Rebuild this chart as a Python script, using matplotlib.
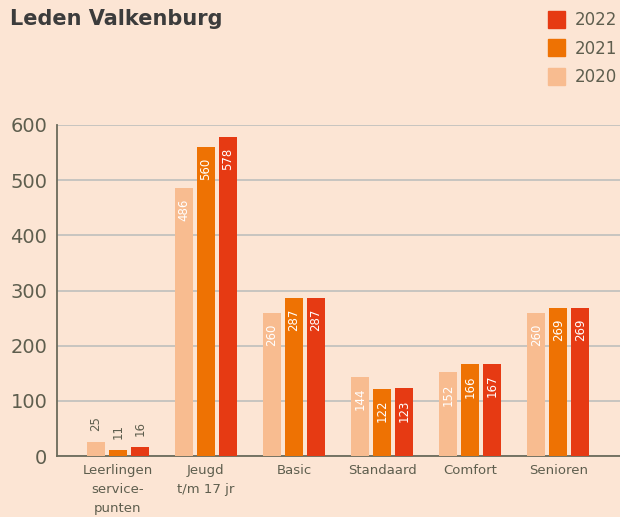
import numpy as np
import matplotlib.pyplot as plt
from matplotlib.patches import Rectangle

categories = ['Leerlingen\nservice-\npunten', 'Jeugd\nt/m 17 jr', 'Basic', 'Standaard', 'Comfort', 'Senioren']
years = ['2020', '2021', '2022']
leden_2020 = [25, 486, 260, 144, 152, 260]
leden_2021 = [11, 560, 287, 122, 166, 269]
leden_2022 = [16, 578, 287, 123, 167, 269]

bg = '#fce5d4'
colors = ['#f8bc90', '#ee7203', '#e63a13']
txt = '#5e5e4e'

fig = plt.figure(figsize=(6.2, 5.17), dpi=100, facecolor=bg)
ax = fig.add_axes([57/620, 1-456/517, 563/620, 331/517])
ax.set_facecolor(bg)

x = np.arange(len(categories))
w = 0.205
series = [leden_2020, leden_2021, leden_2022]
for i, vals in enumerate(series):
    xs = x + (i - 1) * 0.25
    ax.bar(xs, vals, width=w, color=colors[i], zorder=3)
    for xi, v in zip(xs, vals):
        if v > 60:
            ax.text(xi, v - 20, str(v), rotation=90, ha='center', va='top',
                    color='white', fontsize=8.5, zorder=4)
        else:
            ax.text(xi, v + 20, str(v), rotation=90, ha='center', va='bottom',
                    color=txt, fontsize=8.5, zorder=4)

ax.set_xlim(-0.69, 5.70)
ax.set_ylim(0, 600)
ax.set_yticks(range(0, 601, 100))
ax.yaxis.grid(True, color='#b9bcbb', linewidth=1.1, zorder=0)
ax.set_axisbelow(True)
ax.tick_params(axis='y', length=0, pad=7, labelsize=14, labelcolor=txt)
ax.tick_params(axis='x', length=0, pad=6, labelsize=9.5, labelcolor=txt)
ax.set_xticks(x)
ax.set_xticklabels(categories, linespacing=1.6)
for s in ['top', 'right']:
    ax.spines[s].set_visible(False)
for s in ['left', 'bottom']:
    ax.spines[s].set_color('#6b6b5b')
    ax.spines[s].set_linewidth(1.3)

fig.text(10/620, 1-19/517, 'Leden Valkenburg', fontsize=15, fontweight='bold',
         color='#3c3c3c', va='center', ha='left')

# legend drawn by hand, newest year on top
for j, yr in enumerate(reversed(years)):
    c = colors[2 - j]
    top = 11 + j * 28.5
    fig.add_artist(Rectangle((548/620, 1-(top+17)/517), 17/620, 17/517,
                             transform=fig.transFigure, color=c))
    fig.text(575/620, 1-(top+9)/517, yr, fontsize=12, color=txt, va='center', ha='left')

fig.savefig('out.png', dpi=100, facecolor=bg)
